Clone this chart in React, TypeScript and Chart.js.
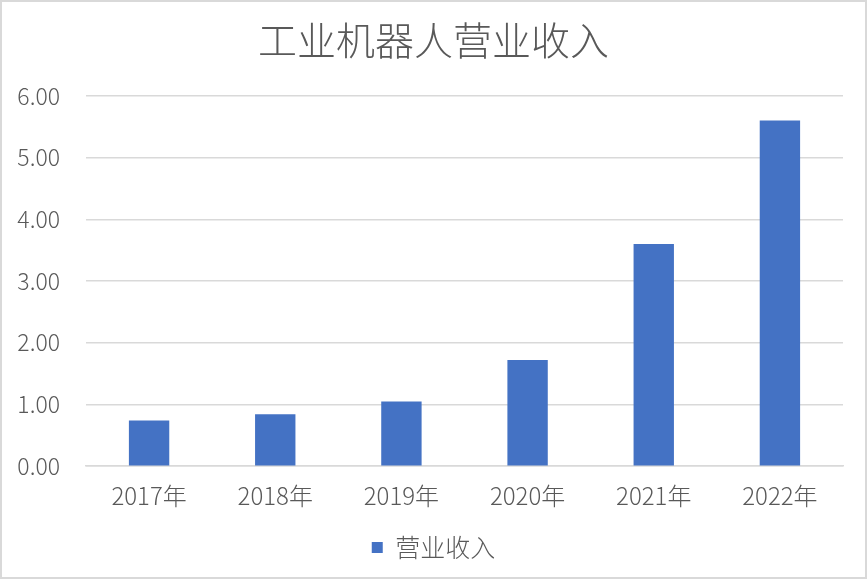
import { Chart, registerables } from "chart.js";
import { useEffect, useRef } from "react";

Chart.register(...registerables);

const years = ["2017年", "2018年", "2019年", "2020年", "2021年", "2022年"];
const revenue = [0.74, 0.84, 1.05, 1.72, 3.6, 5.6];
const seriesName = "营业收入";
const chartTitle = "工业机器人营业收入";

const FONT = "'Noto Sans CJK SC', 'Noto Sans', sans-serif";
const GREY = "#595959";
const GRID = "#d9d9d9";

// grey outline round the whole chart, and title/legend centred on the canvas
const frame = {
  id: "frame",
  afterLayout(chart: any) {
    const shift = 12;
    for (const box of [chart.titleBlock, chart.legend]) {
      if (!box) continue;
      box.left += shift;
      box.right += shift;
    }
  },
  afterDraw(chart: Chart) {
    const { ctx, width, height } = chart;
    ctx.save();
    ctx.strokeStyle = GRID;
    ctx.lineWidth = 2;
    ctx.strokeRect(1, 1, width - 2, height - 2);
    ctx.restore();
  },
};

export default function App() {
  const rootRef = useRef<null | HTMLCanvasElement>(null);

  useEffect(() => {
    document.body.style.margin = "0";
    if (!rootRef.current) return;

    const c = new Chart(rootRef.current, {
      type: "bar",
      data: {
        labels: years,
        datasets: [
          {
            label: seriesName,
            data: revenue,
            backgroundColor: "#4472C4",
            barPercentage: 0.32,
            categoryPercentage: 1,
          },
        ],
      },
      options: {
        animation: false,
        responsive: false,
        layout: { padding: { left: 0, right: 24, top: 0, bottom: 9 } },
        scales: {
          x: {
            grid: { display: false, drawTicks: false },
            border: { color: GRID, width: 1.5 },
            ticks: { color: GREY, font: { family: FONT, size: 24, weight: 300 }, padding: 15 },
          },
          y: {
            min: 0,
            max: 6,
            grid: { color: GRID, lineWidth: 1.5, drawTicks: false },
            border: { display: false },
            afterFit: (axis) => {
              axis.width = 86;
            },
            ticks: {
              stepSize: 1,
              color: GREY,
              padding: 26,
              font: { family: FONT, size: 23, weight: 300 },
              callback: (v) => Number(v).toFixed(2),
            },
          },
        },
        plugins: {
          title: {
            display: true,
            text: chartTitle,
            color: GREY,
            font: { family: FONT, size: 39, weight: 300 },
            padding: { top: 17, bottom: 32 },
          },
          legend: {
            position: "bottom",
            labels: {
              color: GREY,
              boxWidth: 11,
              boxHeight: 11,
              padding: 10,
              font: { family: FONT, size: 25, weight: 300 },
            },
          },
          tooltip: { enabled: false },
        },
      },
      plugins: [frame],
    });

    return () => c.destroy();
  }, []);

  return <canvas ref={rootRef} width={867} height={579} style={{ display: "block" }} />;
}
